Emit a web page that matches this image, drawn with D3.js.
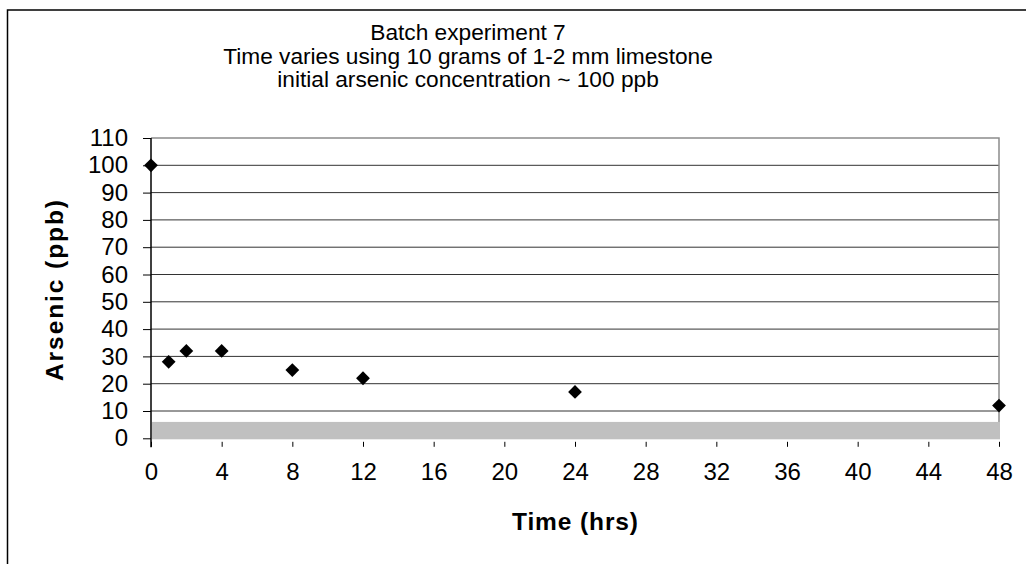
<!DOCTYPE html>
<html><head><meta charset="utf-8">
<script src="https://cdn.jsdelivr.net/npm/d3@7"></script>
<style>
html,body{margin:0;padding:0;background:#fff;}
text{font-family:"Liberation Sans",Arial,sans-serif;fill:#000;}
</style></head>
<body><svg id="c" width="1026" height="564"></svg>
<script>
const hours = [0, 1, 2, 4, 8, 12, 24, 48];
const arsenic = [100, 28, 32, 32, 25, 22, 17, 12];
const xTicks = [0, 4, 8, 12, 16, 20, 24, 28, 32, 36, 40, 44, 48];
const yTicks = [0, 10, 20, 30, 40, 50, 60, 70, 80, 90, 100, 110];
const floorBand = [0, 6];
const titleLines = ["Batch experiment 7", "Time varies using 10 grams of 1-2 mm limestone", "initial arsenic concentration ~ 100 ppb"];
const xTitle = "Time (hrs)";
const yTitle = "Arsenic (ppb)";

const svg = d3.select("#c");
const L = 151, R = 999, T = 138, B = 438.3;
const x = d3.scaleLinear().domain([0, 48]).range([L, R]);
const y = d3.scaleLinear().domain([0, 110]).range([B, T]);

// outer chart border
svg.append("rect").attr("x", 7.5).attr("y", 10).attr("width", 1030).attr("height", 570)
  .attr("fill", "none").attr("stroke", "#000").attr("stroke-width", 1.5);

// gridlines
svg.append("g").selectAll("line").data(yTicks.filter(v => v > 0 && v < 110)).join("line")
  .attr("x1", L).attr("x2", R).attr("y1", d => y(d)).attr("y2", d => y(d))
  .attr("stroke", "#333").attr("stroke-width", 1);

// plot border top/right
svg.append("path").attr("d", `M${L},${y(110)}H${R}V${y(0)}`)
  .attr("fill", "none").attr("stroke", "#8c8c8c").attr("stroke-width", 1.5);

// floor band
svg.append("rect").attr("x", L + 1).attr("y", y(floorBand[1]))
  .attr("width", R - L).attr("height", y(floorBand[0]) - y(floorBand[1]) + 1)
  .attr("fill", "#c0c0c0");

// y axis
const yAxis = d3.axisLeft(y).tickValues(yTicks).tickSize(8).tickPadding(15).tickSizeOuter(0);
const gy = svg.append("g").attr("transform", `translate(${L},0)`).call(yAxis);
gy.select(".domain").remove();
gy.selectAll(".tick line").attr("stroke", "#000");
gy.selectAll(".tick text").attr("font-size", 24).attr("font-family", "Liberation Sans, Arial, sans-serif").attr("fill", "#000");
svg.append("line").attr("x1", L).attr("x2", L).attr("y1", y(110)).attr("y2", y(0) + 9)
  .attr("stroke", "#000").attr("stroke-width", 1.5);

// x axis
const xAxis = d3.axisBottom(x).tickValues(xTicks).tickSize(5).tickPadding(16).tickSizeOuter(0);
const gx = svg.append("g").attr("transform", `translate(0,${y(0) + 3.5})`).call(xAxis);
gx.select(".domain").remove();
gx.selectAll(".tick line").attr("stroke", "#000");
gx.selectAll(".tick text").attr("font-size", 24).attr("font-family", "Liberation Sans, Arial, sans-serif").attr("fill", "#000");

// points
const pts = hours.map((h, i) => ({h, v: arsenic[i]}));
svg.append("g").selectAll("path").data(pts).join("path")
  .attr("d", d3.symbol().type(d3.symbolSquare).size(95))
  .attr("transform", d => `translate(${x(d.h)},${y(d.v)}) rotate(45)`)
  .attr("fill", "#000");

// titles
svg.append("g").selectAll("text").data(titleLines).join("text")
  .attr("x", 468).attr("y", (d, i) => 40 + i * 23.5)
  .attr("text-anchor", "middle").attr("font-size", 22.7).text(d => d);

svg.append("text").attr("x", (L + R) / 2).attr("y", 530).attr("text-anchor", "middle")
  .attr("font-size", 24.5).attr("font-weight", "bold")
  .attr("textLength", 126).attr("lengthAdjust", "spacing").text(xTitle);

svg.append("text").attr("transform", `translate(63,290.5) rotate(-90)`)
  .attr("text-anchor", "middle").attr("font-size", 24.5).attr("font-weight", "bold")
  .attr("textLength", 181).attr("lengthAdjust", "spacing").text(yTitle);
</script></body></html>
